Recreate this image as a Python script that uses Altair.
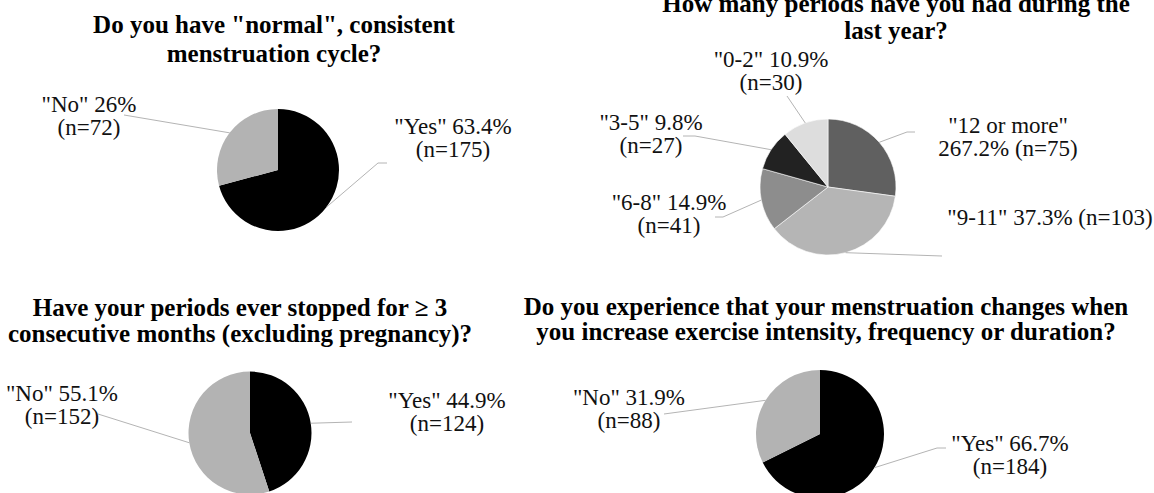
import altair as alt
import numpy as np
import pandas as pd

W, H = 1154, 493

# ---- survey answers, one block per question ----
q1_title = ['Do you have "normal", consistent', 'menstruation cycle?']
q1_cats = ['Yes', 'No']
q1_pct = ['63.4', '26']
q1_n = [175, 72]

q2_title = ['How many periods have you had during the', 'last year?']
q2_cats = ['12 or more', '9-11', '6-8', '3-5', '0-2']
q2_pct = ['267.2', '37.3', '14.9', '9.8', '10.9']
q2_n = [75, 103, 41, 27, 30]

q3_title = ['Have your periods ever stopped for \u2265 3',
            'consecutive months (excluding pregnancy)?']
q3_cats = ['Yes', 'No']
q3_pct = ['44.9', '55.1']
q3_n = [124, 152]

q4_title = ['Do you experience that your menstruation changes when',
            'you increase exercise intensity, frequency or duration?']
q4_cats = ['Yes', 'No']
q4_pct = ['66.7', '31.9']
q4_n = [184, 88]

# ---- layout: pie centre / radius, slice shades, title lines, label anchors ----
# label modes: a = '"cat" p%' / '(n=..)', b = '"cat"' / 'p% (n=..)', c = one line
panels = [
    dict(title=q1_title, cats=q1_cats, pct=q1_pct, n=q1_n,
         cx=278, cy=170, r=61, stroke=0,
         colors=['#000000', '#b3b3b3'],
         tx=274, ty=[33, 62],
         labels=[('a', 453, 134, [(378, 163), (387, 163)]),
                 ('a', 89, 112, [(124, 115)])]),
    dict(title=q2_title, cats=q2_cats, pct=q2_pct, n=q2_n,
         cx=828, cy=187, r=68, stroke=0.6,
         colors=['#606060', '#b5b5b5', '#8d8d8d', '#222222', '#dddddd'],
         tx=896, ty=[12, 39],
         labels=[('b', 1008, 133, [(907, 132), (915, 132)]),
                 ('c', 1050, 225, [(942, 256)]),
                 ('a', 669, 210, [(723, 217), (715, 217)]),
                 ('a', 651, 130, [(695, 136), (683, 136)]),
                 ('a', 771, 67, [(787, 96)])]),
    dict(title=q3_title, cats=q3_cats, pct=q3_pct, n=q3_n,
         cx=250, cy=433, r=61.5, stroke=0,
         colors=['#000000', '#b3b3b3'],
         tx=240, ty=[316, 342],
         labels=[('a', 447, 408, [(352, 422)]),
                 ('a', 62, 401, [(98, 414)])]),
    dict(title=q4_title, cats=q4_cats, pct=q4_pct, n=q4_n,
         cx=820, cy=434, r=64, stroke=0,
         colors=['#000000', '#b3b3b3'],
         tx=826, ty=[315, 340],
         labels=[('a', 1010, 451, [(937, 448), (946, 448)]),
                 ('a', 629, 405, [(664, 414)])]),
]
LABEL_LEAD = 23  # distance between the two lines of a slice label


def label_lines(mode, cat, pct, n):
    if mode == 'a':
        return [f'"{cat}" {pct}%', f'(n={n})']
    if mode == 'b':
        return [f'"{cat}"', f'{pct}% (n={n})']
    return [f'"{cat}" {pct}% (n={n})']


xs = alt.Scale(domain=[0, W], range=[0, W])
ys = alt.Scale(domain=[0, H], range=[0, H])
SERIF = '"Times New Roman", "Liberation Serif", Tinos, "DejaVu Serif", serif'

layers = []
label_rows, title_rows, leader_rows = [], [], []

for pi, p in enumerate(panels):
    df = pd.DataFrame({'cat': p['cats'], 'n': p['n'], 'k': range(len(p['n']))})
    df['cx'] = p['cx']
    df['cy'] = p['cy']
    arc = alt.Chart(df).mark_arc(
        outerRadius=p['r'], stroke='#ffffff', strokeWidth=p['stroke']
    ).encode(
        x=alt.X('cx:Q', scale=xs, axis=None),
        y=alt.Y('cy:Q', scale=ys, axis=None),
        theta=alt.Theta('n:Q', stack=True),
        order=alt.Order('k:Q'),
        color=alt.Color('cat:N', scale=alt.Scale(domain=p['cats'], range=p['colors']),
                        legend=None),
    )
    layers.append(arc)

    # leader lines start on the rim at each slice's middle angle
    n = np.array(p['n'], dtype=float)
    before = np.concatenate([[0.0], np.cumsum(n)[:-1]])
    mid = 2 * np.pi * (before + n / 2) / n.sum()
    for si, (mode, lx, ly, pts) in enumerate(p['labels']):
        for li, line in enumerate(label_lines(mode, p['cats'][si], p['pct'][si], p['n'][si])):
            label_rows.append(dict(x=lx, y=ly + li * LABEL_LEAD, txt=line))
        lid = f'{pi}-{si}'
        sx = p['cx'] + p['r'] * np.sin(mid[si])
        sy = p['cy'] - p['r'] * np.cos(mid[si])
        leader_rows.append(dict(id=lid, k=0, x=sx, y=sy))
        for j, (px, py) in enumerate(pts):
            leader_rows.append(dict(id=lid, k=j + 1, x=px, y=py))

    for line, ty in zip(p['title'], p['ty']):
        title_rows.append(dict(x=p['tx'], y=ty, txt=line))

leaders = alt.Chart(pd.DataFrame(leader_rows)).mark_line(
    color='#b4b4b4', strokeWidth=1
).encode(
    x=alt.X('x:Q', scale=xs, axis=None),
    y=alt.Y('y:Q', scale=ys, axis=None),
    detail='id:N',
    order='k:Q',
)

labels = alt.Chart(pd.DataFrame(label_rows)).mark_text(
    font=SERIF, fontSize=23, fontWeight='normal', color='#111111', align='center',
    baseline='alphabetic'
).encode(
    x=alt.X('x:Q', scale=xs, axis=None),
    y=alt.Y('y:Q', scale=ys, axis=None),
    text='txt:N',
)

titles = alt.Chart(pd.DataFrame(title_rows)).mark_text(
    font=SERIF, fontSize=25, fontWeight='bold', color='#000000',
    align='center', baseline='alphabetic'
).encode(
    x=alt.X('x:Q', scale=xs, axis=None),
    y=alt.Y('y:Q', scale=ys, axis=None),
    text='txt:N',
)

chart = alt.layer(*layers, leaders, labels, titles).resolve_scale(
    theta='independent', color='independent'
).properties(
    width=W, height=H, padding=0,
    autosize=alt.AutoSizeParams(type='none'),
    background='#ffffff',
).configure_view(stroke=None)

chart.save("out.html", embed_options={"renderer": "svg", "actions": False})
